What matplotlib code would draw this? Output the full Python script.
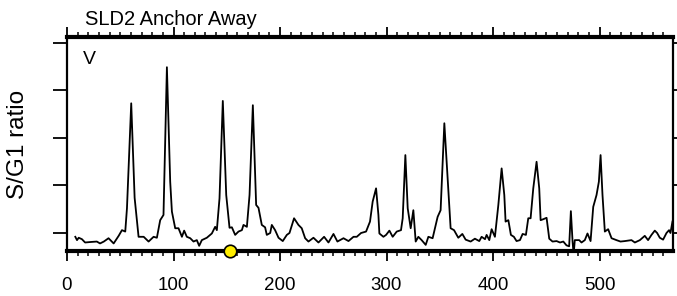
import matplotlib
matplotlib.use("Agg")
import matplotlib.pyplot as plt
from matplotlib.ticker import MultipleLocator

plt.rcParams['font.family'] = ['Liberation Sans', 'DejaVu Sans']

# chromosome V position (kb) and S/G1 ratio
position = [7.8, 9.4, 11, 14, 17, 21.9, 28, 31, 34.6, 39,
            43.8, 48.5, 51.6, 54.7, 56.3, 60.3, 63.5, 67.2, 72, 76.6,
            81.3, 84.4, 87.5, 90.6, 93.8, 96.9, 98.5, 101.6, 104.7, 107.9,
            110, 112.5, 115.7, 118.8, 121.9, 124.1, 126.6, 131.3, 136, 139.1,
            140.7, 143.2, 146.3, 149.5, 152.6, 154.8, 157.9, 161, 164.2, 165.7,
            168.9, 171.4, 174.5, 177.6, 179.8, 182.9, 186, 187.6, 190.8, 192.3,
            195.4, 198.6, 202.6, 206.4, 208.9, 213.2, 217.3, 220.4, 223.6, 226.7,
            231.4, 236.1, 241.4, 245.5, 250.2, 253.9, 259.6, 264.3, 269, 272.1,
            276.1, 280.8, 284.5, 287, 290.2, 292.4, 293.3, 297.1, 299.6, 302.7,
            305.8, 309.6, 313.6, 315.2, 317.7, 319.9, 322.7, 325.2, 327.4, 329.9,
            333, 336.8, 339.3, 343.3, 345.5, 348, 350.8, 354.3, 357.4, 360.2,
            363.4, 367.4, 371.2, 374.3, 379, 383, 387.1, 389.3, 392.5, 394,
            396.5, 398.7, 401.8, 405, 408.1, 410.6, 411.8, 414.4, 416.8, 419.6,
            422.1, 425.3, 427.8, 430.9, 433.1, 435.3, 437.8, 440.9, 443.4, 444.7,
            447.2, 450.3, 452.8, 455.9, 459.7, 462.9, 466, 469, 471.5, 473.1,
            474.7, 475.7, 476.8, 480.9, 483.1, 486.2, 488.7, 491.6, 494.1, 497.2,
            499.4, 501, 502.8, 505, 508.1, 511.3, 515.9, 519.7, 523.8, 530,
            533.2, 537.9, 542.5, 545.6, 548.8, 551.9, 554.1, 556.6, 559.7, 562.9,
            565.3, 566.6, 568.5]
ratio = [.92, .85, .90, .87, .80, .81, .82, .78, .82, .89,
         .78, .94, 1.06, 1.03, 1.52, 3.73, 1.74, .92, .92, .82,
         .92, .90, 1.27, 1.38, 4.49, 2.08, 1.45, 1.10, 1.10, .92,
         1.05, .92, .89, .82, .85, .73, .85, .90, .99, 1.13,
         1.06, 1.73, 3.78, 1.80, 1.11, 1.12, .96, 1.03, 1.06, 1.17,
         1.13, 1.80, 3.69, 1.59, 1.53, 1.17, 1.12, .96, 1.0, 1.17,
         1.06, .90, .83, .96, 1.0, 1.31, 1.17, 1.10, .89, .82,
         .90, .80, .92, .80, .98, .82, .89, .83, .92, .92,
         1.0, 1.03, 1.24, 1.66, 1.94, 1.38, .99, .92, .96, 1.05,
         .92, 1.03, 1.06, 1.31, 2.64, 1.52, 1.10, 1.48, .82, .92,
         .85, .75, .92, .89, 1.10, 1.34, 1.48, 3.31, 2.15, 1.10,
         1.06, .90, .98, .86, .82, .88, .83, .92, .87, .96,
         .85, 1.08, .92, 1.59, 2.36, 1.80, 1.24, 1.27, .96, .92,
         .83, .85, .98, .96, 1.31, 1.31, 1.94, 2.50, 1.94, 1.27,
         1.29, 1.32, .88, .82, .83, .80, .82, .74, .72, 1.46,
         .82, .55, .85, .85, .80, .85, .99, .83, 1.55, 1.80,
         2.08, 2.64, 1.80, 1.03, 1.08, .89, .85, .82, .83, .85,
         .80, .85, .94, .85, .96, 1.05, 1.0, .90, .86, 1.0,
         1.06, 1.0, 1.24]

centromere = 153
title = "SLD2 Anchor Away"
chrom = "V"

fig = plt.figure(figsize=(6.77, 2.96), dpi=100)
ax = fig.add_axes([67/677, 45/296, 606/677, 214/296])

ax.plot(position, ratio, color='black', lw=1.3)
ax.plot([centromere], [0.621], 'o', ms=9, mfc='#ffee00', mec='black', mew=1.2,
        clip_on=False, zorder=10)

ax.set_xlim(0, 569)
ax.set_ylim(0.621, 5.126)
ax.xaxis.set_major_locator(MultipleLocator(100))
ax.xaxis.set_minor_locator(MultipleLocator(10))
ax.set_yticks([1, 2, 3, 4, 5])
ax.set_yticklabels([])

for s in ['top', 'bottom']:
    ax.spines[s].set_linewidth(3)
for s in ['left', 'right']:
    ax.spines[s].set_linewidth(1.6)

ax.tick_params(axis='x', which='major', direction='out', length=7, width=1.3,
               top=True, bottom=True, labelsize=13.5, pad=12)
ax.tick_params(axis='x', which='minor', direction='out', length=3.5, width=1.1,
               top=True, bottom=True)
ax.tick_params(axis='y', direction='out', length=10, width=1.3, left=True, right=True)

ax.set_ylabel("S/G1 ratio", fontsize=17.5, labelpad=14)
ax.text(0.027, 0.935, chrom, transform=ax.transAxes, fontsize=14, va='top', ha='left')
fig.text(85/677, 1 - 25/296, title, fontsize=14.5, va='baseline', ha='left')

fig.savefig("out.png", dpi=100)
